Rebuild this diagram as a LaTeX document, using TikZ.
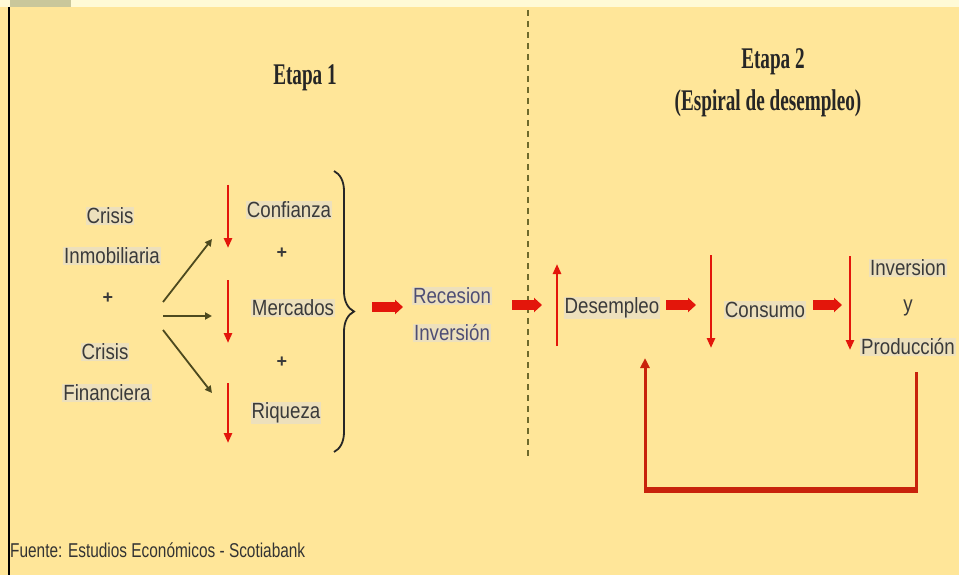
\documentclass[tikz,border=0pt]{standalone}
\usepackage{fontspec}
\setmainfont{Liberation Serif}
\setsansfont{Liberation Sans}
\usetikzlibrary{arrows.meta,decorations.pathreplacing}
\definecolor{bg}{HTML}{FFE699}
\definecolor{topstrip}{HTML}{FFFAD6}
\definecolor{topgray}{HTML}{C9C79B}
\definecolor{redA}{HTML}{E3160B}
\definecolor{redB}{HTML}{C8230C}
\definecolor{txt}{HTML}{3A3A3A}
\definecolor{txtb}{HTML}{4E4E74}
\definecolor{olive}{HTML}{6E6A2C}
\definecolor{hl}{HTML}{EDE0BC}
\newcommand\cnd[2]{\scalebox{#1}[1]{#2}}
\newcommand\lb[1]{\cnd{0.85}{#1}}
\tikzset{
  lbl/.style={font=\sffamily\fontsize{22}{24}\selectfont, text=txt, fill=hl, inner sep=1pt},
  lblb/.style={lbl, text=txtb},
  ttl/.style={font=\fontsize{30}{32}\selectfont\bfseries, text=black!85, inner sep=1pt},
  plus/.style={font=\sffamily\bfseries\fontsize{18}{20}\selectfont, text=txt, inner sep=1pt},
  fat/.style={redA, line width=10pt, -{Triangle[length=8pt,width=14pt]}},
  thin/.style={redA, line width=2.6pt, -{Triangle[length=10pt,width=8pt]}},
  blk/.style={olive!70!black, line width=1.8pt, -{Triangle[length=7pt,width=7pt]}},
  loopline/.style={redB, line width=3pt},
}
\begin{document}
\begin{tikzpicture}[x=1pt,y=-1pt]
\useasboundingbox (0,0) rectangle (959,575);
\fill[bg] (0,0) rectangle (959,575);
\fill[topstrip] (0,0) rectangle (959,7);
\fill[topgray] (10,0) rectangle (71,7);
\draw[black, line width=2.5pt] (9,7) -- (9,575);

% titles
\node[ttl] (e1) at (305,78) {\cnd{0.64}{Etapa 1}};
\node[ttl] (e2) at (773,62) {\cnd{0.64}{Etapa 2}};
\node[ttl] (e2b) at (768,103) {\cnd{0.64}{(Espiral de desempleo)}};

% dashed divider
\coordinate (dTop) at (528,10);
\coordinate (dBot) at (528,456);
\draw[olive, line width=2pt, dash pattern=on 6pt off 5pt] (dTop) -- (dBot);

% crisis
\node[lbl] (c1) at (110,216) {\lb{Crisis}};
\node[lbl] (c2) at (112,256) {\lb{Inmobiliaria}};
\node[plus] (cp) at (108,298) {+};
\node[lbl] (c3) at (105,352) {\lb{Crisis}};
\node[lbl] (c4) at (107,393) {\lb{Financiera}};
\coordinate (o1) at (163,302);
\coordinate (o2) at (163,316);
\coordinate (o3) at (163,330);
\coordinate (t1) at (212,239);
\coordinate (t2) at (212,316);
\coordinate (t3) at (212,393);
\draw[blk] (o1) -- (t1);
\draw[blk] (o2) -- (t2);
\draw[blk] (o3) -- (t3);

% factors
\coordinate (f1a) at (228,185); \coordinate (f1b) at (228,248);
\coordinate (f2a) at (228,280); \coordinate (f2b) at (228,343);
\coordinate (f3a) at (228,383); \coordinate (f3b) at (228,443);
\draw[thin] (f1a) -- (f1b);
\draw[thin] (f2a) -- (f2b);
\draw[thin] (f3a) -- (f3b);
\node[lbl] (conf) at (289,210) {\lb{Confianza}};
\node[plus] (p1) at (282,253) {+};
\node[lbl] (merc) at (293,308) {\lb{Mercados}};
\node[plus] (p2) at (282,362) {+};
\node[lbl] (riq) at (286,413) {\lb{Riqueza}};

% brace
\coordinate (bTop) at (334,171);
\coordinate (bBot) at (334,452);
\draw[black!85, line width=1.8pt, decorate, decoration={brace, amplitude=20pt}] (bTop) -- (bBot);

% recession
\coordinate (a1s) at (372,307);
\coordinate (a1e) at (403,307);
\node[lblb] (rec) at (452,296) {\lb{Recesion}};
\node[lblb] (inv) at (452,333) {\lb{Inversión}};
\draw[fat] (a1s) -- (a1e);
\coordinate (a2s) at (512,305);
\coordinate (a2e) at (542,305);
\draw[fat] (a2s) -- (a2e);

% stage 2
\coordinate (u1a) at (557,346); \coordinate (u1b) at (557,264);
\draw[thin] (u1a) -- (u1b);
\node[lbl] (des) at (612,308) {\lb{Desempleo}};
\coordinate (a3s) at (666,305); \coordinate (a3e) at (696,305);
\draw[fat] (a3s) -- (a3e);
\coordinate (d2a) at (711,255); \coordinate (d2b) at (711,348);
\draw[thin] (d2a) -- (d2b);
\node[lbl] (cons) at (765,310) {\lb{Consumo}};
\coordinate (a4s) at (813,305); \coordinate (a4e) at (842,305);
\draw[fat] (a4s) -- (a4e);
\coordinate (d3a) at (850,256); \coordinate (d3b) at (850,350);
\draw[thin] (d3a) -- (d3b);
\node[lbl] (ip1) at (908,268) {\lb{Inversion}};
\node[lbl, fill=none] (ip2) at (908,308) {\lb{y}};
\node[lbl] (ip3) at (908,347) {\lb{Producción}};

% feedback loop
\coordinate (l1) at (916,372);
\coordinate (l2) at (916,490);
\coordinate (l3) at (645,490);
\coordinate (l4) at (645,358);
\draw[loopline] (l1) -- (l2);
\draw[redB, line width=6pt] ([xshift=1.5pt]l2) -- ([xshift=-1.5pt]l3);
\draw[loopline, -{Triangle[length=10pt,width=9pt]}] (l3) -- (l4);

% source
\node[font=\sffamily\fontsize{20}{22}\selectfont, text=black!80, anchor=west, inner sep=0pt] (src) at (10,550) {\cnd{0.77}{Fuente: Estudios Económicos - Scotiabank}};
\end{tikzpicture}
\end{document}
